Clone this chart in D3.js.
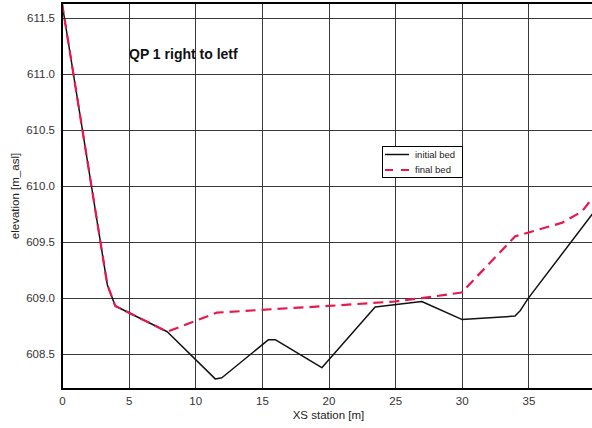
<!DOCTYPE html>
<html>
<head>
<meta charset="utf-8">
<script src="https://cdn.jsdelivr.net/npm/d3@7"></script>
<style>
  html, body { margin: 0; padding: 0; background: #fff; }
  svg { display: block; font-family: "Liberation Sans", Arial, sans-serif; }
</style>
</head>
<body>
<svg id="chart" width="592" height="428"></svg>
<script>
// Cross-section profile, station [m] vs. bed elevation [m a.s.l.]
const initialStation = [0, 3.4, 4.0, 7.9, 11.5, 12.0, 15.5, 16.0, 19.5, 23.5, 27.0, 30.0, 34.0, 34.4, 35.0, 40.0];
const initialElev    = [611.63, 609.12, 608.93, 608.70, 608.28, 608.29, 608.63, 608.63, 608.38, 608.92, 608.97, 608.81, 608.84, 608.89, 609.00, 609.78];

const finalStation = [0, 3.4, 4.0, 7.9, 11.6, 17.0, 20.0, 25.0, 27.0, 30.0, 34.0, 37.5, 39.0, 40.0];
const finalElev    = [611.63, 609.12, 608.93, 608.70, 608.87, 608.91, 608.93, 608.97, 609.00, 609.05, 609.55, 609.67, 609.77, 609.92];

const xTicks = [0, 5, 10, 15, 20, 25, 30, 35];
const yTicks = [608.5, 609.0, 609.5, 610.0, 610.5, 611.0, 611.5];

const seriesNames = ["initial bed", "final bed"];
const chartTitle = "QP 1 right to letf";
const xLabel = "XS station [m]";
const yLabel = "elevation [m_asl]";

const svg = d3.select("#chart");
const margin = { left: 62, top: 3, right: 595, bottom: 389 };

const x = d3.scaleLinear().domain([0, 40]).range([margin.left, margin.right]);
const y = d3.scaleLinear().domain([608.19, 611.63]).range([margin.bottom, margin.top]);

// grid
const grid = svg.append("g").attr("stroke", "#3a3a3a").attr("stroke-width", 1);
grid.selectAll("line.v").data(xTicks.filter(d => d > 0)).join("line")
  .attr("x1", d => Math.round(x(d)) + 0.5).attr("x2", d => Math.round(x(d)) + 0.5)
  .attr("y1", margin.top).attr("y2", margin.bottom);
grid.selectAll("line.h").data(yTicks).join("line")
  .attr("y1", d => Math.round(y(d)) + 0.5).attr("y2", d => Math.round(y(d)) + 0.5)
  .attr("x1", margin.left).attr("x2", margin.right);

// lines
const line = d3.line().x(d => x(d[0])).y(d => y(d[1]));
const initialData = d3.zip(initialStation, initialElev);
const finalData = d3.zip(finalStation, finalElev);

svg.append("path").datum(initialData)
  .attr("d", line).attr("fill", "none")
  .attr("stroke", "#111").attr("stroke-width", 1.5).attr("stroke-linejoin", "round");

svg.append("path").datum(finalData)
  .attr("d", line).attr("fill", "none")
  .attr("stroke", "#e8174c").attr("stroke-width", 2.2)
  .attr("stroke-dasharray", "10,6").attr("stroke-linejoin", "round");

// frame
svg.append("line").attr("x1", margin.left).attr("x2", margin.left)
  .attr("y1", margin.top - 1).attr("y2", margin.bottom + 1)
  .attr("stroke", "#000").attr("stroke-width", 2);
svg.append("line").attr("x1", margin.left - 1).attr("x2", margin.right)
  .attr("y1", margin.bottom).attr("y2", margin.bottom)
  .attr("stroke", "#000").attr("stroke-width", 2);
svg.append("line").attr("x1", margin.left - 1).attr("x2", margin.right)
  .attr("y1", margin.top).attr("y2", margin.top)
  .attr("stroke", "#000").attr("stroke-width", 2);

// axes
const xAxis = d3.axisBottom(x).tickValues(xTicks).tickSize(0).tickPadding(8).tickFormat(d3.format("d"));
svg.append("g").attr("transform", `translate(0,${margin.bottom})`).call(xAxis)
  .call(g => g.select(".domain").remove())
  .call(g => g.selectAll("text").attr("font-size", 11.5).attr("fill", "#333")
    .attr("font-family", "Liberation Sans, Arial, sans-serif"));

const yAxis = d3.axisLeft(y).tickValues(yTicks).tickSize(0).tickPadding(7).tickFormat(d3.format(".1f"));
svg.append("g").attr("transform", `translate(${margin.left},0)`).call(yAxis)
  .call(g => g.select(".domain").remove())
  .call(g => g.selectAll("text").attr("font-size", 11.5).attr("fill", "#333")
    .attr("font-family", "Liberation Sans, Arial, sans-serif"));

// axis labels
svg.append("text").attr("x", (margin.left + margin.right) / 2).attr("y", 419)
  .attr("text-anchor", "middle").attr("font-size", 11.5).attr("fill", "#222").text(xLabel);
svg.append("text")
  .attr("transform", `translate(19,${(margin.top + margin.bottom) / 2}) rotate(-90)`)
  .attr("text-anchor", "middle").attr("font-size", 11.5).attr("fill", "#222").text(yLabel);

// title
svg.append("text").attr("x", 129).attr("y", 59)
  .attr("font-size", 14).attr("font-weight", "bold").attr("fill", "#111").text(chartTitle);

// legend
const lg = svg.append("g").attr("transform", "translate(382,146)");
lg.append("rect").attr("x", 0.5).attr("y", 0.5).attr("width", 80).attr("height", 31)
  .attr("fill", "#fff").attr("stroke", "#000").attr("stroke-width", 1);
lg.append("line").attr("x1", 3).attr("x2", 27).attr("y1", 8.5).attr("y2", 8.5)
  .attr("stroke", "#111").attr("stroke-width", 1.5);
lg.append("line").attr("x1", 3).attr("x2", 27).attr("y1", 24).attr("y2", 24)
  .attr("stroke", "#e8174c").attr("stroke-width", 2.2).attr("stroke-dasharray", "8,8");
lg.selectAll("text").data(seriesNames).join("text")
  .attr("x", 33).attr("y", (d, i) => 11.5 + i * 15.5)
  .attr("font-size", 9.5).attr("fill", "#222").text(d => d);
</script>
</body>
</html>
